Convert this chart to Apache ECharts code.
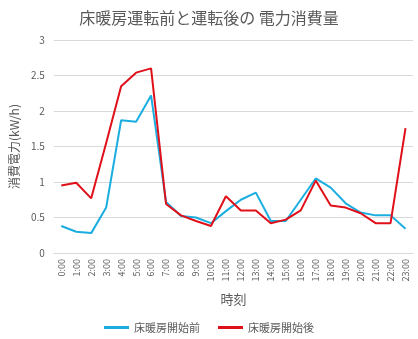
<!DOCTYPE html>
<html>
<head>
<meta charset="utf-8">
<script src="https://cdn.jsdelivr.net/npm/echarts@6/dist/echarts.min.js"></script>
<style>html,body{margin:0;padding:0;background:#fff;}#c{width:418px;height:339px;}</style>
</head>
<body>
<div id="c"></div>
<script>
const hours = ['0:00','1:00','2:00','3:00','4:00','5:00','6:00','7:00','8:00','9:00','10:00','11:00','12:00','13:00','14:00','15:00','16:00','17:00','18:00','19:00','20:00','21:00','22:00','23:00'];
const before = [0.38,0.30,0.28,0.64,1.87,1.85,2.22,0.72,0.52,0.50,0.42,0.59,0.75,0.85,0.45,0.45,0.75,1.05,0.92,0.70,0.57,0.53,0.53,0.34];
const after = [0.95,0.99,0.77,1.55,2.35,2.54,2.60,0.69,0.53,0.45,0.38,0.80,0.60,0.60,0.42,0.47,0.60,1.02,0.67,0.64,0.56,0.42,0.42,1.76];
const seriesNames = ['床暖房開始前','床暖房開始後'];
const FONT = '"Noto Sans CJK JP", sans-serif';
const chart = echarts.init(document.getElementById('c'));
chart.setOption({
  animation: false,
  textStyle: {fontFamily: FONT},
  title: {
    text: '床暖房運転前と運転後の 電力消費量',
    left: 'center', top: 5,
    textStyle: {fontSize: 16, fontWeight: 'normal', color: '#595959', fontFamily: FONT}
  },
  legend: {
    bottom: 1, left: 'center',
    itemWidth: 25, itemHeight: 3, itemGap: 18,
    icon: 'rect',
    textStyle: {fontSize: 11, color: '#595959', fontFamily: FONT},
    data: seriesNames
  },
  grid: {left: 49, right: 5, top: 40, bottom: 86},
  xAxis: {
    type: 'category', data: hours, boundaryGap: true,
    name: '時刻', nameLocation: 'middle', nameGap: 40,
    nameTextStyle: {fontSize: 13, color: '#595959', fontFamily: FONT},
    axisLine: {lineStyle: {color: '#d9d9d9'}},
    axisTick: {show: false},
    axisLabel: {rotate: 90, interval: 0, fontSize: 9, color: '#595959', margin: 6, fontFamily: FONT}
  },
  yAxis: {
    type: 'value', min: 0, max: 3, interval: 0.5,
    name: '消費電力(kW/h)', nameLocation: 'middle', nameGap: 32, nameRotate: 90,
    nameTextStyle: {fontSize: 12, color: '#595959', fontFamily: FONT},
    axisLine: {show: false}, axisTick: {show: false},
    axisLabel: {fontSize: 10, color: '#595959', margin: 9, fontFamily: FONT},
    splitLine: {lineStyle: {color: '#d9d9d9'}}
  },
  series: [
    {name: seriesNames[0], type: 'line', data: before, symbol: 'none', lineStyle: {width: 2, color: '#1aaee0'}, itemStyle: {color: '#1aaee0'}},
    {name: seriesNames[1], type: 'line', data: after, symbol: 'none', lineStyle: {width: 2, color: '#e0101a'}, itemStyle: {color: '#e0101a'}}
  ]
});
</script>
</body>
</html>
